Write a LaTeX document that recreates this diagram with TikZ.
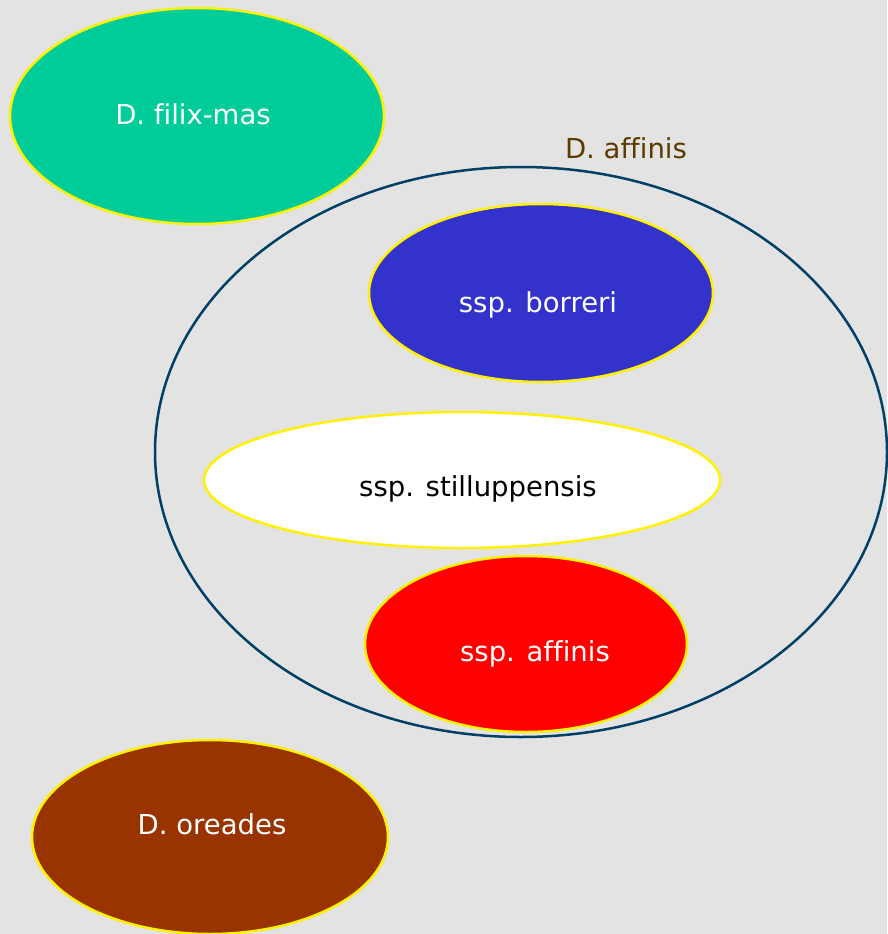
\documentclass[tikz,border=0pt]{standalone}
\usepackage{fontspec}
\setmainfont[Ligatures=NoCommon]{DejaVu Sans}
\usetikzlibrary{positioning,shapes.geometric}

\definecolor{bgray}{HTML}{E3E3E3}
\definecolor{fern}{HTML}{00CC99}
\definecolor{borr}{HTML}{3333CC}
\definecolor{orea}{HTML}{993300}
\definecolor{ring}{HTML}{003F66}
\definecolor{ttl}{HTML}{5C3A00}

\begin{document}
\begin{tikzpicture}[x=1pt,y=-1pt,font=\fontsize{27.5}{32}\selectfont]
	
	\tikzstyle{blob}=[ellipse,draw=yellow,line width=2.5pt,inner sep=0pt]
	\tikzstyle{lbl}=[anchor=base,inner sep=0pt]
	
	\fill[bgray] (0,0) rectangle (887,934);
	\useasboundingbox (0,0) rectangle (887,934);
	
	% species and subspecies
	\node[blob,fill=fern,minimum width=374pt,minimum height=216pt] (filix) at (197,116) {};
	\node[ellipse,draw=ring,line width=2.5pt,inner sep=0pt,minimum width=732pt,minimum height=570pt] (aff) at (521,452) {};
	\node[blob,fill=borr,minimum width=344pt,minimum height=178pt] (borr) at (541,293) {};
	\node[blob,fill=white,minimum width=516pt,minimum height=136pt] (still) at (462,480) {};
	\node[blob,fill=red,minimum width=322pt,minimum height=176pt] (ssaff) at (526,644) {};
	\node[blob,fill=orea,minimum width=356pt,minimum height=194pt] (orea) at (210,837) {};
	
	% names
	\node[lbl,white] (tfilix) at (193,124) {D. filix-mas};
	\node[lbl,text=ttl] (taff) at (626,158) {D. affinis};
	\node[lbl,white] (tborr) at (538,312) {ssp. borreri};
	\node[lbl,black] (tstill) at (478,496) {ssp. stilluppensis};
	\node[lbl,white] (tssaff) at (535,661) {ssp. affinis};
	\node[lbl,white] (torea) at (212,834) {D. oreades};
\end{tikzpicture}
\end{document}
